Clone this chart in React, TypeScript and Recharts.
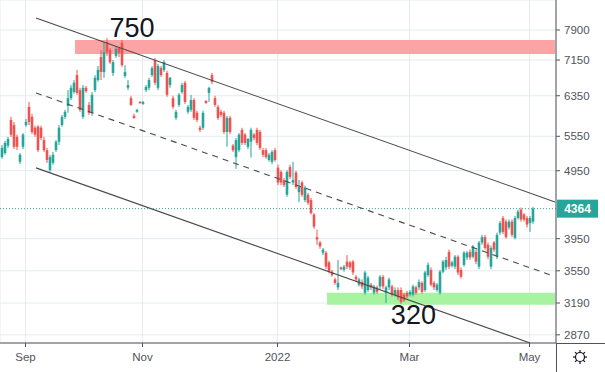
import React from 'react';
import {
  ComposedChart,
  Bar,
  XAxis,
  YAxis,
  CartesianGrid,
  ReferenceLine,
  ReferenceArea,
  ReferenceDot,
} from 'recharts';

type C = [number, number, number, number]; // open, high, low, close

const aug: C[] = [
  [5180, 5390, 5150, 5340], [5250, 5470, 5220, 5430], [5380, 5540, 5340, 5500], [5860, 5920, 5540, 5580],
  [5760, 5820, 5320, 5360], [5540, 5580, 5300, 5360], [5100, 5250, 5060, 5220], [5360, 5610, 5320, 5580],
];
const sep: C[] = [
  [5760, 5880, 5730, 5820], [6120, 6220, 5760, 5820], [5920, 5980, 5590, 5630], [5710, 5750, 5540, 5580],
  [5730, 5760, 5270, 5300], [5710, 5750, 5480, 5520], [5480, 5540, 5270, 5300], [5300, 5340, 5080, 5130],
  [4960, 5220, 4930, 5180], [5080, 5270, 5050, 5220], [5300, 5480, 5270, 5450], [5450, 5760, 5390, 5710],
  [5760, 5960, 5730, 5920], [5920, 6060, 5880, 6020], [6140, 6470, 6000, 6300], [6300, 6580, 6260, 6520],
  [6430, 6690, 6390, 6630], [6800, 6920, 6370, 6410], [6470, 6520, 6020, 6060], [5920, 6580, 5880, 6520],
];
const oct: C[] = [
  [6520, 6560, 6410, 6450], [6160, 6220, 5960, 6000], [6000, 6430, 5940, 6370], [6470, 6800, 6430, 6740],
  [6690, 7010, 6650, 6920], [7220, 7390, 6690, 6870], [6870, 7590, 6740, 7340], [7590, 7690, 7250, 7340],
  [7390, 7440, 7060, 7100], [6850, 7150, 6780, 7100], [7250, 7470, 7200, 7420], [7440, 7470, 7220, 7320],
  [7570, 7640, 6990, 7030], [6780, 7030, 6740, 6870], [6520, 6690, 6470, 6580], [6300, 6350, 6140, 6160],
  [5940, 5980, 5880, 5900], [6020, 6080, 6000, 6060], [6220, 6240, 6180, 6200],
];
const nov: C[] = [
  [6180, 6240, 6160, 6220], [6470, 6580, 6430, 6540], [6520, 6740, 6470, 6690], [6800, 7010, 6760, 6960],
  [7150, 7200, 6580, 6630], [6520, 7060, 6470, 7010], [6960, 7010, 6760, 6800], [6920, 7150, 6870, 7100],
  [6850, 6900, 6330, 6370], [6580, 6760, 6520, 6740], [6300, 6350, 6080, 6120], [5900, 6060, 5860, 6020],
  [6160, 6410, 6120, 6370], [6430, 6630, 6390, 6580], [6630, 6670, 6180, 6220], [6020, 6160, 5980, 6120],
  [6060, 6370, 6020, 6260], [6260, 6300, 5860, 5900], [6000, 6040, 5820, 5860], [5710, 5750, 5630, 5670],
  [5710, 6040, 5670, 6000], [6240, 6260, 6180, 6200],
];
const dec: C[] = [
  [6410, 6540, 6220, 6520], [6800, 6850, 6600, 6650], [6300, 6350, 6120, 6160], [6120, 6160, 5860, 5900],
  [6020, 6060, 5920, 5960], [6000, 6040, 5590, 5630], [5630, 5940, 5360, 5900], [5900, 5940, 5590, 5630],
  [5380, 5410, 5270, 5300], [5180, 5520, 4980, 5480], [5300, 5610, 5270, 5580], [5670, 5710, 5390, 5430],
  [5580, 5610, 5390, 5430], [5360, 5520, 5320, 5500], [5450, 5710, 5170, 5670], [5580, 5610, 5480, 5520],
  [5670, 5710, 5390, 5430], [5630, 5670, 5300, 5340], [5300, 5340, 5180, 5220], [5300, 5340, 5150, 5180],
  [5130, 5250, 5100, 5220], [5100, 5300, 5060, 5270], [5300, 5340, 5100, 5130],
];
const jan: C[] = [
  [5000, 5050, 4720, 4760], [4930, 4960, 4720, 4760], [4800, 4830, 4690, 4720], [4570, 4960, 4540, 4930],
  [5010, 5050, 4820, 4850], [4760, 5100, 4720, 4800], [4920, 4950, 4660, 4690], [4610, 4800, 4460, 4690],
  [4760, 4790, 4540, 4570], [4490, 4710, 4460, 4680], [4570, 4600, 4420, 4450], [4490, 4520, 4280, 4300],
  [4280, 4300, 4080, 4110], [3970, 4070, 3870, 3940], [3900, 3920, 3820, 3850], [3770, 3830, 3740, 3810],
  [3770, 3790, 3570, 3600], [3650, 3670, 3520, 3540], [3540, 3560, 3480, 3500], [3450, 3470, 3390, 3410],
  [3360, 3680, 3330, 3410], [3590, 3600, 3560, 3570],
];
const feb: C[] = [
  [3560, 3620, 3540, 3600], [3660, 3740, 3570, 3600], [3650, 3670, 3560, 3590], [3660, 3680, 3500, 3530],
  [3480, 3500, 3420, 3450], [3390, 3470, 3370, 3450], [3420, 3450, 3340, 3370], [3300, 3550, 3280, 3530],
  [3330, 3490, 3310, 3470], [3390, 3410, 3330, 3360], [3300, 3390, 3280, 3370], [3360, 3380, 3290, 3310],
  [3370, 3500, 3340, 3480], [3480, 3500, 3340, 3370], [3300, 3380, 3190, 3360], [3360, 3470, 3330, 3450],
  [3370, 3390, 3260, 3280], [3280, 3360, 3260, 3330], [3330, 3360, 3220, 3250], [3330, 3360, 3180, 3200],
  [3280, 3300, 3200, 3220], [3300, 3320, 3240, 3260],
];
const mar: C[] = [
  [3280, 3330, 3260, 3310], [3280, 3390, 3260, 3370], [3360, 3380, 3280, 3300], [3360, 3450, 3330, 3420],
  [3410, 3430, 3290, 3310], [3330, 3550, 3310, 3530], [3500, 3650, 3480, 3620], [3560, 3590, 3370, 3390],
  [3410, 3430, 3330, 3360], [3330, 3410, 3310, 3390], [3300, 3560, 3280, 3540], [3540, 3680, 3520, 3660],
  [3590, 3720, 3560, 3680], [3780, 3810, 3570, 3600], [3610, 3670, 3590, 3650], [3600, 3740, 3570, 3720],
  [3720, 3740, 3500, 3530], [3560, 3590, 3460, 3480], [3620, 3790, 3600, 3770], [3710, 3790, 3680, 3770],
];
const apr: C[] = [
  [3780, 3810, 3680, 3710], [3720, 3870, 3700, 3850], [3780, 3810, 3630, 3660], [3600, 3920, 3570, 3900],
  [3900, 4000, 3870, 3970], [3970, 4000, 3810, 3830], [3870, 3900, 3690, 3720], [3600, 3860, 3570, 3830],
  [3900, 3920, 3780, 3810], [3720, 4030, 3690, 4000], [4030, 4190, 4000, 4160], [4230, 4260, 4010, 4040],
  [4180, 4210, 3950, 3970], [4100, 4210, 4070, 4180], [4180, 4210, 3970, 4000], [3960, 4260, 3940, 4230],
  [4230, 4350, 4210, 4320], [4350, 4380, 4180, 4210], [4280, 4300, 4180, 4210], [4230, 4260, 4100, 4140],
];
const may: C[] = [
  [4160, 4260, 4040, 4230], [4180, 4390, 4150, 4364],
];

const months = [aug, sep, oct, nov, dec, jan, feb, mar, apr, may];
const monthLabels = ['', 'Sep', '', 'Nov', '', '2022', '', 'Mar', '', 'May'];
const priceTicks = [2870, 3190, 3550, 3950, 4950, 5550, 6350, 7150, 7900];
const lastPrice = 4364;

// channel lines: [startIndex, startPrice, endIndex, endPrice]
const upperChannel = [11.5, 8221, 184.5, 4463];
const middleChannel = [11.5, 6410, 182.8, 3503];
const lowerChannel = [11.5, 4997, 176.2, 2793];
// zones: [fromIndex, toIndex, lowPrice, highPrice]
const resistanceZone = [24.5, 184.5, 7296, 7642];
const supportZone = [108.5, 184.5, 3171, 3300];
const notes = [
  { text: '750', i: 43.5, price: 7979 },
  { text: '320', i: 137.3, price: 3075 },
];

const UP = '#26a69a';
const DOWN = '#ef5350';

let acc = 0;
const starts = months.map((m) => {
  const s = acc;
  acc += m.length;
  return s;
});
const xTicks = starts.filter((_, k) => monthLabels[k] !== '');
const labelFor = (v: number) => {
  const k = starts.indexOf(v);
  return k >= 0 ? monthLabels[k] : '';
};

const data = months.flat().map((c, i) => ({
  i,
  o: c[0],
  h: c[1],
  l: c[2],
  c: c[3],
  range: [c[2], c[1]],
}));

const Candle = (props: any) => {
  const { x, y, width, height, payload } = props;
  if (!payload || x == null || y == null) return null;
  const { o, h, l, c } = payload;
  const top = Math.min(y, y + height);
  const bot = Math.max(y, y + height);
  const lh = Math.log(h);
  const span = lh - Math.log(l);
  const py = (v: number) => (span > 0 ? top + ((bot - top) * (lh - Math.log(v))) / span : top);
  const cx = x + width / 2;
  const color = c >= o ? UP : DOWN;
  const yo = py(o);
  const yc = py(c);
  const bt = Math.min(yo, yc);
  const bh = Math.max(1, Math.abs(yc - yo));
  return (
    <g>
      <rect x={cx - 0.5} y={top} width={1} height={Math.max(1, bot - top)} fill={color} />
      <rect x={cx - 1.3} y={bt} width={2.6} height={bh} fill={color} />
    </g>
  );
};

const PriceTag = (props: any) => {
  const vb = props.viewBox || {};
  const x0 = (vb.x || 0) + (vb.width || 0) + 1;
  const y0 = vb.y || 0;
  return (
    <g>
      <rect x={x0} y={y0 - 9} width={41} height={18} fill={UP} />
      <text
        x={x0 + 20.5}
        y={y0 + 4.5}
        textAnchor="middle"
        fill="#ffffff"
        fontSize={12}
        fontWeight="bold"
        fontFamily="Liberation Sans, Arial, sans-serif"
      >
        {lastPrice}
      </text>
    </g>
  );
};

const seg = (s: number[]) => [
  { x: s[0], y: s[1] },
  { x: s[2], y: s[3] },
];

export default function App() {
  const font = 'Liberation Sans, Arial, sans-serif';
  return (
    <div
      style={{
        position: 'absolute',
        left: 0,
        top: 0,
        width: 605,
        height: 372,
        background: '#ffffff',
        fontFamily: font,
      }}
    >
      <ComposedChart
        width={605}
        height={372}
        data={data}
        margin={{ top: 0, right: 0, left: 0, bottom: 0 }}
      >
        <CartesianGrid stroke="#e3ebf0" strokeWidth={1} />
        <XAxis
          dataKey="i"
          type="number"
          domain={[-0.5, 184.833]}
          allowDataOverflow
          ticks={xTicks}
          tickFormatter={labelFor}
          height={29}
          tickSize={4}
          tickMargin={6}
          axisLine={{ stroke: '#50535e' }}
          tickLine={{ stroke: '#50535e' }}
          tick={{ fill: '#50535e', fontSize: 11.5, fontFamily: font }}
          interval={0}
        />
        <YAxis
          orientation="right"
          scale="log"
          domain={[2793, 8728]}
          allowDataOverflow
          ticks={priceTicks}
          width={49}
          tickSize={4}
          tickMargin={4}
          axisLine={{ stroke: '#50535e' }}
          tickLine={{ stroke: '#50535e' }}
          tick={{ fill: '#50535e', fontSize: 11.5, fontFamily: font }}
          interval={0}
        />
        <ReferenceArea
          x1={resistanceZone[0]}
          x2={resistanceZone[1]}
          y1={resistanceZone[2]}
          y2={resistanceZone[3]}
          fill="#fba3a5"
          fillOpacity={1}
          stroke="none"
          ifOverflow="visible"
        />
        <ReferenceArea
          x1={supportZone[0]}
          x2={supportZone[1]}
          y1={supportZone[2]}
          y2={supportZone[3]}
          fill="#a8f3a2"
          fillOpacity={1}
          stroke="none"
          ifOverflow="visible"
        />
        <ReferenceLine
          y={lastPrice}
          stroke={UP}
          strokeDasharray="1 2"
          strokeWidth={1}
          label={<PriceTag />}
        />
        <Bar dataKey="range" barSize={2} shape={<Candle />} isAnimationActive={false} />
        <ReferenceLine segment={seg(upperChannel)} stroke="#4a4a4a" strokeWidth={1.1} ifOverflow="visible" />
        <ReferenceLine
          segment={seg(middleChannel)}
          stroke="#4a4a4a"
          strokeWidth={1.1}
          strokeDasharray="6 5"
          ifOverflow="visible"
        />
        <ReferenceLine segment={seg(lowerChannel)} stroke="#4a4a4a" strokeWidth={1.1} ifOverflow="visible" />
        {notes.map((n) => (
          <ReferenceDot
            key={n.text}
            x={n.i}
            y={n.price}
            r={0}
            fill="none"
            stroke="none"
            ifOverflow="visible"
            label={{ value: n.text, position: 'center', fontSize: 27, fill: '#131722', fontFamily: font }}
          />
        ))}
      </ComposedChart>
      <svg
        width={605}
        height={372}
        style={{ position: 'absolute', left: 0, top: 0, pointerEvents: 'none' }}
      >
        <line x1={556} y1={343.5} x2={605} y2={343.5} stroke="#50535e" />
        <line x1={556.5} y1={343} x2={556.5} y2={372} stroke="#50535e" />
        <g transform="translate(580,357)" stroke="#131722" strokeWidth={1.2} fill="none">
          <circle r={4.5} />
          {[0, 45, 90, 135, 180, 225, 270, 315].map((a) => (
            <line
              key={a}
              x1={Math.cos((a * Math.PI) / 180) * 4.5}
              y1={Math.sin((a * Math.PI) / 180) * 4.5}
              x2={Math.cos((a * Math.PI) / 180) * 7}
              y2={Math.sin((a * Math.PI) / 180) * 7}
            />
          ))}
        </g>
      </svg>
    </div>
  );
}
